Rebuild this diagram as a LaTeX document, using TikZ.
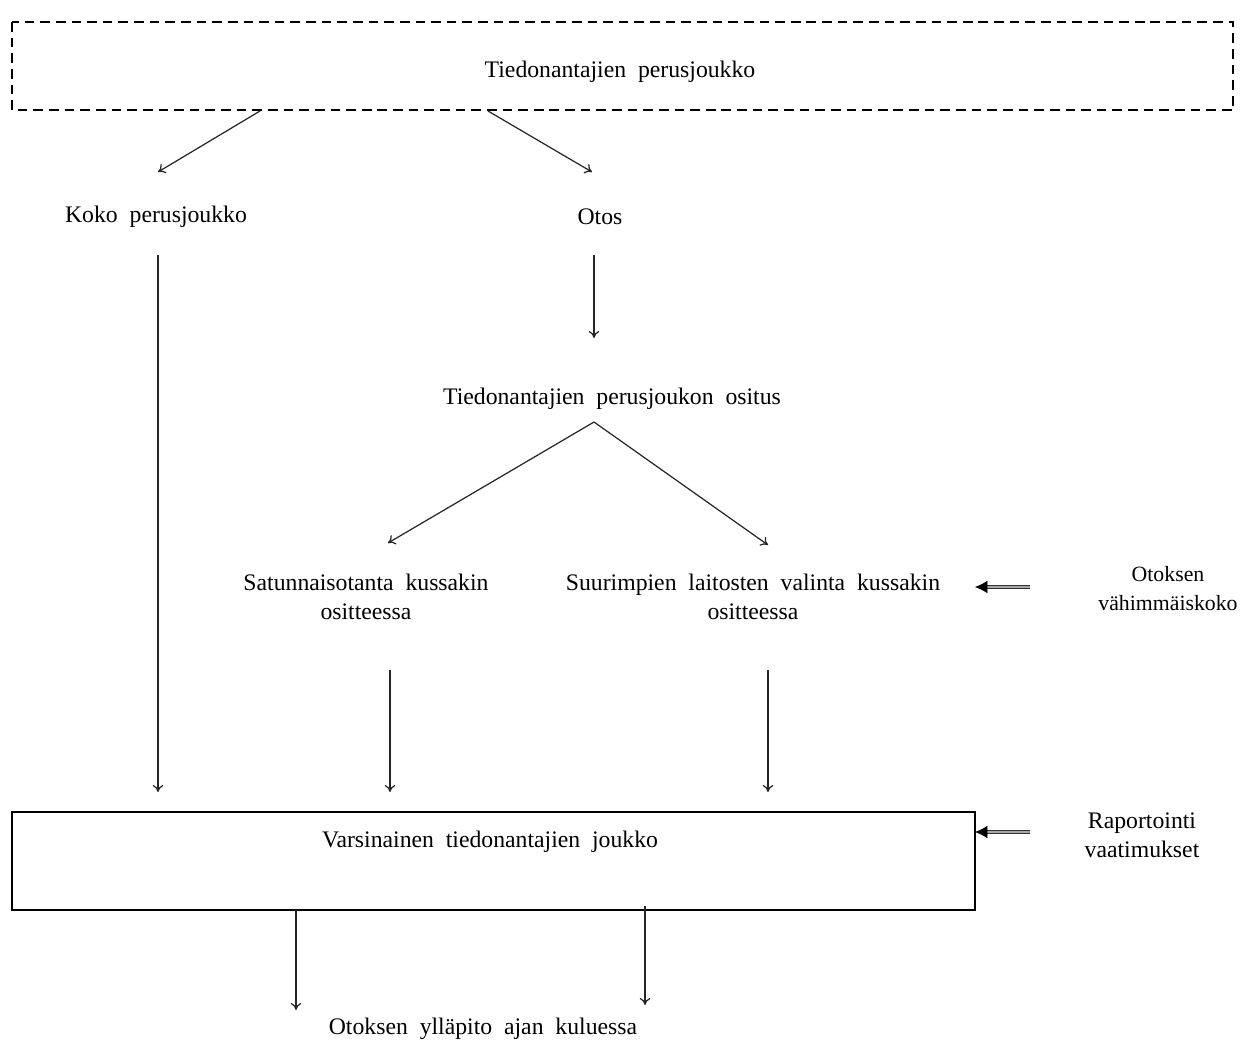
\documentclass[tikz,border=0pt]{standalone}
\usepackage{fontspec}
\setmainfont{Liberation Serif}
\usetikzlibrary{arrows.meta}
\newcommand{\mywsp}{\spaceskip=0.5em plus 0.1em\relax}
\begin{document}
\begin{tikzpicture}[x=0.02cm,y=-0.02cm,
  lbl/.style={font=\fontsize{13.5}{16.5}\selectfont\mywsp, align=center, inner sep=0pt},
  arr/.style={-{To[length=4pt,width=6pt]}, line width=0.7pt, draw=black!85},
  dbl/.style={draw=black!80, double=black!35, double distance=1.6pt, line width=0.5pt},
  dtip/.style={-{Latex[length=7pt,width=7pt]}, line width=0.3pt}]
\useasboundingbox (0,0) rectangle (1243,1041);
% top dashed box
\draw[dash pattern=on 5.5pt off 3.4pt, line width=1pt] (12,22) rectangle (1233,110);
\node[lbl] (top) at (620,72) {Tiedonantajien perusjoukko};
\coordinate (t1) at (260,111);
\coordinate (t2) at (488,111);
\node[lbl] (koko) at (156,217) {Koko perusjoukko};
\node[lbl] (otos) at (600,217) {Otos};
\coordinate (k1) at (158,172);
\coordinate (o1) at (592,172);
\draw[arr] (t1) -- (k1);
\draw[arr] (t2) -- (o1);
% koko down
\coordinate (k2) at (158,255);
\coordinate (k3) at (158,792);
\draw[arr] (k2) -- (k3);
% otos down
\coordinate (o2) at (594,255);
\coordinate (o3) at (594,338);
\draw[arr] (o2) -- (o3);
\node[lbl] (ositus) at (612,399) {Tiedonantajien perusjoukon ositus};
\coordinate (s0) at (594,422);
\coordinate (sa) at (388,543);
\coordinate (sb) at (768,545);
\draw[arr] (s0) -- (sa);
\draw[arr] (s0) -- (sb);
\node[lbl] (sat) at (366,597) {Satunnaisotanta kussakin\\ositteessa};
\node[lbl] (suu) at (753,597) {Suurimpien laitosten valinta kussakin\\ositteessa};
\node[lbl, font=\fontsize{12.4}{16.5}\selectfont] (vah) at (1168,589) {Otoksen\\vähimmäiskoko};
\coordinate (v1) at (1030,587);
\coordinate (v2) at (984,587);
\coordinate (v3) at (975,587);
\draw[dbl] (v1) -- (v2);
\draw[dtip] (v2) -- (v3);
% down to main box
\coordinate (a1) at (390,670);
\coordinate (a2) at (390,792);
\coordinate (b1) at (768,670);
\coordinate (b2) at (768,792);
\draw[arr] (a1) -- (a2);
\draw[arr] (b1) -- (b2);
% main box
\draw[line width=0.9pt] (12,812) rectangle (975,910);
\node[lbl] (varsi) at (490,842) {Varsinainen tiedonantajien joukko};
\node[lbl] (rap) at (1142,835) {Raportointi\\vaatimukset};
\coordinate (r1) at (1030,832);
\coordinate (r2) at (984,832);
\coordinate (r3) at (975,832);
\draw[dbl] (r1) -- (r2);
\draw[dtip] (r2) -- (r3);
% bottom
\coordinate (m1) at (296,910);
\coordinate (m2) at (296,1010);
\coordinate (n1) at (645,906);
\coordinate (n2) at (645,1005);
\draw[arr] (m1) -- (m2);
\draw[arr] (n1) -- (n2);
\node[lbl] (yll) at (483,1029) {Otoksen ylläpito ajan kuluessa};
\end{tikzpicture}
\end{document}
